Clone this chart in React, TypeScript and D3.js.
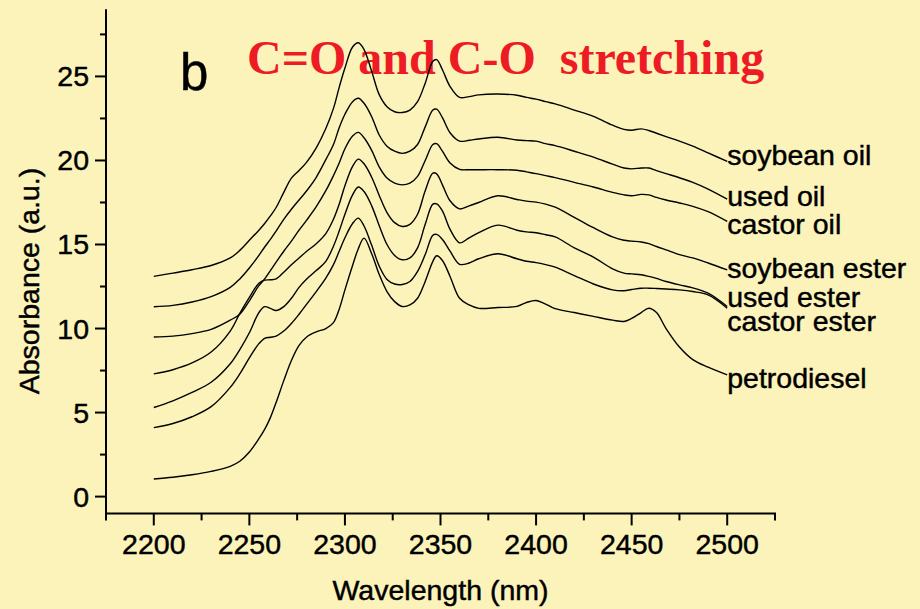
import React from 'react';
import * as d3 from 'd3';

// Wavelength grid (nm) shared by all spectra
const WAVELENGTHS = [2200, 2210, 2220, 2230, 2240, 2245, 2250, 2255, 2258, 2261, 2264, 2268, 2272, 2276, 2280, 2285, 2290, 2294, 2297, 2300, 2304, 2307, 2310, 2314, 2318, 2322, 2326, 2330, 2334, 2338, 2342, 2346, 2348, 2351, 2355, 2360, 2365, 2370, 2380, 2390, 2395, 2400, 2405, 2410, 2420, 2430, 2440, 2446, 2450, 2455, 2459, 2463, 2468, 2475, 2482, 2490, 2500];

const SOYBEAN_OIL = [13.1, 13.3, 13.5, 13.75, 14.2, 14.65, 15.25, 15.85, 16.25, 16.7, 17.2, 18.1, 18.95, 19.4, 19.9, 20.75, 21.9, 23.1, 24.35, 25.5, 26.75, 27.0, 26.6, 25.3, 23.9, 23.2, 22.9, 22.85, 23.0, 23.5, 24.6, 25.9, 26.0, 25.4, 24.4, 23.75, 23.8, 23.9, 23.95, 23.88, 23.75, 23.65, 23.5, 23.37, 23.0, 22.62, 22.1, 21.85, 21.8, 21.88, 21.78, 21.62, 21.42, 21.15, 20.85, 20.45, 19.94];
const USED_OIL = [11.3, 11.38, 11.58, 11.9, 12.45, 12.95, 13.6, 14.35, 14.85, 15.3, 15.8, 16.5, 17.1, 17.65, 18.2, 19.0, 20.05, 20.95, 21.95, 22.75, 23.5, 23.7, 23.4, 22.6, 21.5, 20.85, 20.55, 20.42, 20.55, 20.95, 22.0, 23.0, 23.05, 22.55, 21.65, 21.15, 21.2, 21.28, 21.38, 21.22, 21.18, 21.15, 21.0, 20.88, 20.55, 20.2, 19.78, 19.55, 19.5, 19.55, 19.55, 19.4, 19.22, 18.97, 18.7, 18.3, 17.7];
const CASTOR_OIL = [9.5, 9.55, 9.7, 9.95, 10.5, 10.85, 11.65, 12.55, 12.95, 13.45, 13.95, 14.6, 15.2, 15.85, 16.45, 17.25, 18.2, 19.1, 19.85, 20.7, 21.45, 21.67, 21.35, 20.6, 19.6, 18.95, 18.65, 18.55, 18.65, 19.05, 20.0, 20.95, 21.0, 20.55, 19.85, 19.47, 19.45, 19.45, 19.45, 19.42, 19.32, 19.22, 19.1, 18.98, 18.7, 18.42, 18.1, 17.95, 17.9, 17.98, 17.95, 17.8, 17.65, 17.47, 17.27, 16.95, 16.37];
const SOYBEAN_ESTER = [7.3, 7.55, 7.95, 8.6, 9.85, 10.9, 11.85, 12.7, 12.88, 12.9, 12.95, 13.35, 13.8, 14.2, 14.6, 15.05, 15.65, 16.5, 17.4, 18.5, 19.65, 20.08, 19.8, 19.0, 17.9, 16.9, 16.3, 16.07, 16.2, 16.8, 18.2, 19.25, 19.2, 18.55, 17.6, 17.12, 17.3, 17.5, 17.9, 17.68, 17.58, 17.52, 17.4, 17.22, 16.62, 16.0, 15.45, 15.25, 15.2, 15.15, 15.05, 14.88, 14.68, 14.4, 14.2, 13.9, 13.49];
const USED_ESTER = [5.3, 5.7, 6.2, 6.8, 7.9, 8.75, 9.75, 10.95, 11.3, 11.2, 11.07, 11.3, 11.8, 12.45, 12.95, 13.45, 14.0, 14.9, 15.8, 16.8, 17.95, 18.42, 18.15, 17.3, 16.1, 15.0, 14.35, 14.09, 14.2, 14.8, 16.2, 17.4, 17.42, 17.0, 15.9, 15.1, 15.4, 15.7, 16.15, 15.85, 15.75, 15.7, 15.58, 15.45, 14.8, 14.25, 13.55, 13.3, 13.25, 13.2, 13.1, 12.98, 12.8, 12.6, 12.42, 12.1, 11.31];
const CASTOR_ESTER = [4.1, 4.35, 4.75, 5.35, 6.5, 7.3, 8.25, 9.1, 9.42, 9.48, 9.55, 9.85, 10.3, 10.85, 11.45, 12.2, 13.0, 13.8, 14.6, 15.4, 16.25, 16.57, 16.1, 14.95, 13.7, 12.92, 12.65, 12.62, 12.8, 13.4, 14.4, 15.55, 15.6, 15.3, 14.6, 13.82, 13.9, 14.15, 14.45, 14.15, 14.0, 13.92, 13.8, 13.65, 13.15, 12.65, 12.3, 12.25, 12.32, 12.4, 12.4, 12.38, 12.35, 12.3, 12.2, 12.0, 11.21];
const PETRODIESEL = [1.05, 1.15, 1.3, 1.5, 1.8, 2.1, 2.65, 3.45, 4.0, 4.7, 5.6, 6.9, 8.1, 9.0, 9.5, 9.8, 10.0, 10.35, 11.15, 12.3, 13.75, 14.75, 15.38, 14.45, 13.2, 12.2, 11.6, 11.31, 11.4, 11.8, 12.8, 14.0, 14.33, 14.05, 13.1, 11.8, 11.4, 11.2, 11.25, 11.32, 11.55, 11.67, 11.45, 11.18, 10.95, 10.72, 10.5, 10.42, 10.6, 10.95, 11.21, 10.95, 10.0, 8.9, 8.15, 7.7, 7.24];

const SERIES_NAMES = ['soybean oil', 'used oil', 'castor oil', 'soybean ester', 'used ester', 'castor ester', 'petrodiesel'];
const SERIES = [SOYBEAN_OIL, USED_OIL, CASTOR_OIL, SOYBEAN_ESTER, USED_ESTER, CASTOR_ESTER, PETRODIESEL];

const X_TICKS = [2200, 2250, 2300, 2350, 2400, 2450, 2500];
const X_MINOR = [2175, 2225, 2275, 2325, 2375, 2425, 2475, 2525];
const Y_TICKS = [0, 5, 10, 15, 20, 25];
const Y_MINOR = [2.5, 7.5, 12.5, 17.5, 22.5, 27.5];

const TITLE = 'C=O and C-O  stretching';
const PANEL = 'b';
const X_LABEL = 'Wavelength (nm)';
const Y_LABEL = 'Absorbance (a.u.)';

// layout: label baselines (px)
const LABEL_BASELINE = [165, 206, 234, 278, 307, 331, 388];

const SANS = "'Liberation Sans', Arial, Helvetica, sans-serif";
const SERIF = "'Liberation Serif', 'Times New Roman', serif";

export default function App() {
  const W = 920;
  const H = 609;
  const x = d3.scaleLinear().domain([2175, 2525]).range([106, 775]);
  const y = d3.scaleLinear().domain([-1, 29]).range([513.4, 9.2]);
  const line = d3
    .line<number>()
    .x((_, i) => x(WAVELENGTHS[i]))
    .y((d) => y(d))
    .curve(d3.curveCatmullRom.alpha(0.5));

  const axisY0 = y(-1);
  const axisX0 = x(2175);
  const txt = { fontFamily: SANS, fill: '#000', stroke: '#000', strokeWidth: 0.45 };

  return (
    <svg
      width={W}
      height={H}
      viewBox={`0 0 ${W} ${H}`}
      style={{ position: 'absolute', left: 0, top: 0, display: 'block' }}
    >
      <rect x={0} y={0} width={W} height={H} fill="#FBF3BA" />

      <text x={180} y={90} fontSize={51} {...txt}>
        {PANEL}
      </text>
      <text
        x={247}
        y={74}
        fontFamily={SERIF}
        fontWeight="bold"
        fontSize={48}
        fill="#ED1C24"
        style={{ whiteSpace: 'pre' }}
      >
        {TITLE}
      </text>

      {SERIES.map((s, i) => (
        <path key={SERIES_NAMES[i]} d={line(s) || ''} fill="none" stroke="#000" strokeWidth={1.4} />
      ))}

      {SERIES_NAMES.map((n, i) => (
        <text key={n} x={x(2500)} y={LABEL_BASELINE[i]} fontSize={28.5} {...txt}>
          {n}
        </text>
      ))}

      {/* axes */}
      <line x1={axisX0} y1={y(29)} x2={axisX0} y2={axisY0 + 1} stroke="#000" strokeWidth={2} />
      <line x1={axisX0 - 1} y1={axisY0} x2={x(2525) + 1} y2={axisY0} stroke="#000" strokeWidth={2} />

      {Y_TICKS.map((t) => (
        <g key={'yt' + t}>
          <line x1={axisX0 - 11} x2={axisX0} y1={y(t)} y2={y(t)} stroke="#000" strokeWidth={2} />
          <text x={89} y={y(t)} dy="0.35em" textAnchor="end" fontSize={28.5} {...txt}>
            {t}
          </text>
        </g>
      ))}
      {Y_MINOR.map((t) => (
        <line key={'ym' + t} x1={axisX0 - 6} x2={axisX0} y1={y(t)} y2={y(t)} stroke="#000" strokeWidth={2} />
      ))}

      {X_TICKS.map((t) => (
        <g key={'xt' + t}>
          <line x1={x(t)} x2={x(t)} y1={axisY0} y2={axisY0 + 12} stroke="#000" strokeWidth={2} />
          <text x={x(t)} y={554} textAnchor="middle" fontSize={28.5} {...txt}>
            {t}
          </text>
        </g>
      ))}
      {X_MINOR.map((t) => (
        <line key={'xm' + t} x1={x(t)} x2={x(t)} y1={axisY0} y2={axisY0 + 7} stroke="#000" strokeWidth={2} />
      ))}

      <text x={(x(2175) + x(2525)) / 2} y={600} textAnchor="middle" fontSize={28.5} {...txt}>
        {X_LABEL}
      </text>
      <text transform={`translate(39, 281) rotate(-90)`} textAnchor="middle" fontSize={28.5} {...txt}>
        {Y_LABEL}
      </text>
    </svg>
  );
}
